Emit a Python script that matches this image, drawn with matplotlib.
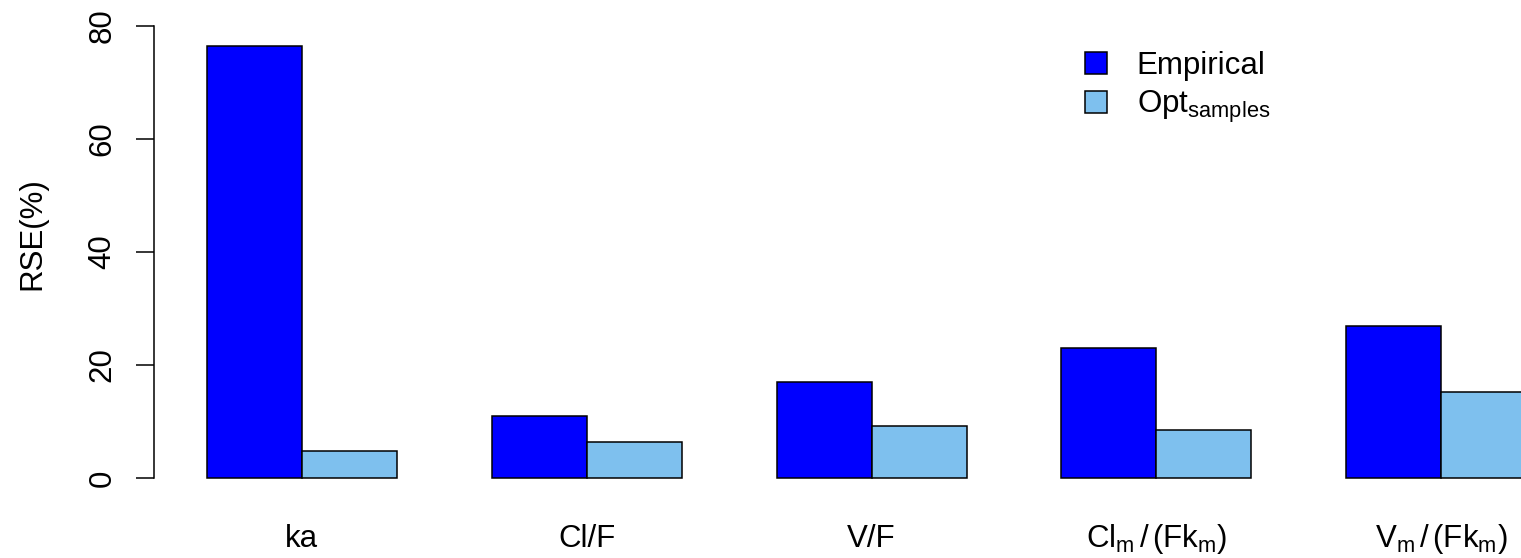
import matplotlib
matplotlib.use("Agg")
import matplotlib.pyplot as plt
import numpy as np

plt.rcParams['font.family'] = ['Liberation Sans', 'DejaVu Sans']
plt.rcParams['mathtext.fontset'] = 'custom'
plt.rcParams['mathtext.rm'] = 'Liberation Sans'
plt.rcParams['mathtext.it'] = 'Liberation Sans:italic'

params = ["ka", "Cl/F", "V/F",
          r"$\mathrm{Cl_m\,/\,(Fk_m)}$", r"$\mathrm{V_m\,/\,(Fk_m)}$"]
empirical = [76.5, 11.0, 17.0, 23.0, 26.9]
opt_samples = [4.8, 6.4, 9.2, 8.5, 15.2]
yticks = [0, 20, 40, 60, 80]

W, H = 1521, 558
FS = 22.5
fig = plt.figure(figsize=(W / 100, H / 100), dpi=100)
fig.patch.set_facecolor("white")
# plot region in pixels: left 154, top 8, bottom 496, right edge runs off the figure
ax = fig.add_axes([153.8 / W, (H - 496) / H, 1 - 153.8 / W, 488 / H])

x = np.arange(len(params)) * 3 + 1
ax.bar(x, empirical, width=1, align='edge', color="#0000FF",
       edgecolor="black", linewidth=1.1, label="Empirical")
ax.bar(x + 1, opt_samples, width=1, align='edge', color="#7EC0EE",
       edgecolor="black", linewidth=1.1, label=r"Opt$_\mathrm{samples}$")

ax.set_xlim(0.44, 14.84)
ax.set_ylim(-3.2, 83.2)

for s in ["top", "right", "bottom"]:
    ax.spines[s].set_visible(False)
ax.spines["left"].set_bounds(0, 80)
ax.spines["left"].set_linewidth(1.1)
ax.set_xticks([])
ax.set_yticks(yticks)
ax.tick_params(axis='y', length=13, width=1.1, labelsize=FS, pad=13)
for lab in ax.get_yticklabels():
    lab.set_rotation(90)
    lab.set_va('center')

# group labels under each pair of bars
for xi, name in zip(x, params):
    fig.text((ax.transData.transform((xi + 1, 0))[0]) / W, 1 - 539 / H, name,
             ha='center', va='center', fontsize=FS)

fig.text(32 / W, 1 - 234 / H, "RSE(%)", rotation=90, ha='center',
         va='center', fontsize=FS)

ax.legend(loc='upper left', bbox_to_anchor=(1085 / W, 1 - 51 / H),
          bbox_transform=fig.transFigure, frameon=False, fontsize=FS,
          handlelength=0.7, handleheight=0.7, handletextpad=0.95,
          labelspacing=0.25, borderaxespad=0, borderpad=0)

fig.savefig("out.png", dpi=100)
